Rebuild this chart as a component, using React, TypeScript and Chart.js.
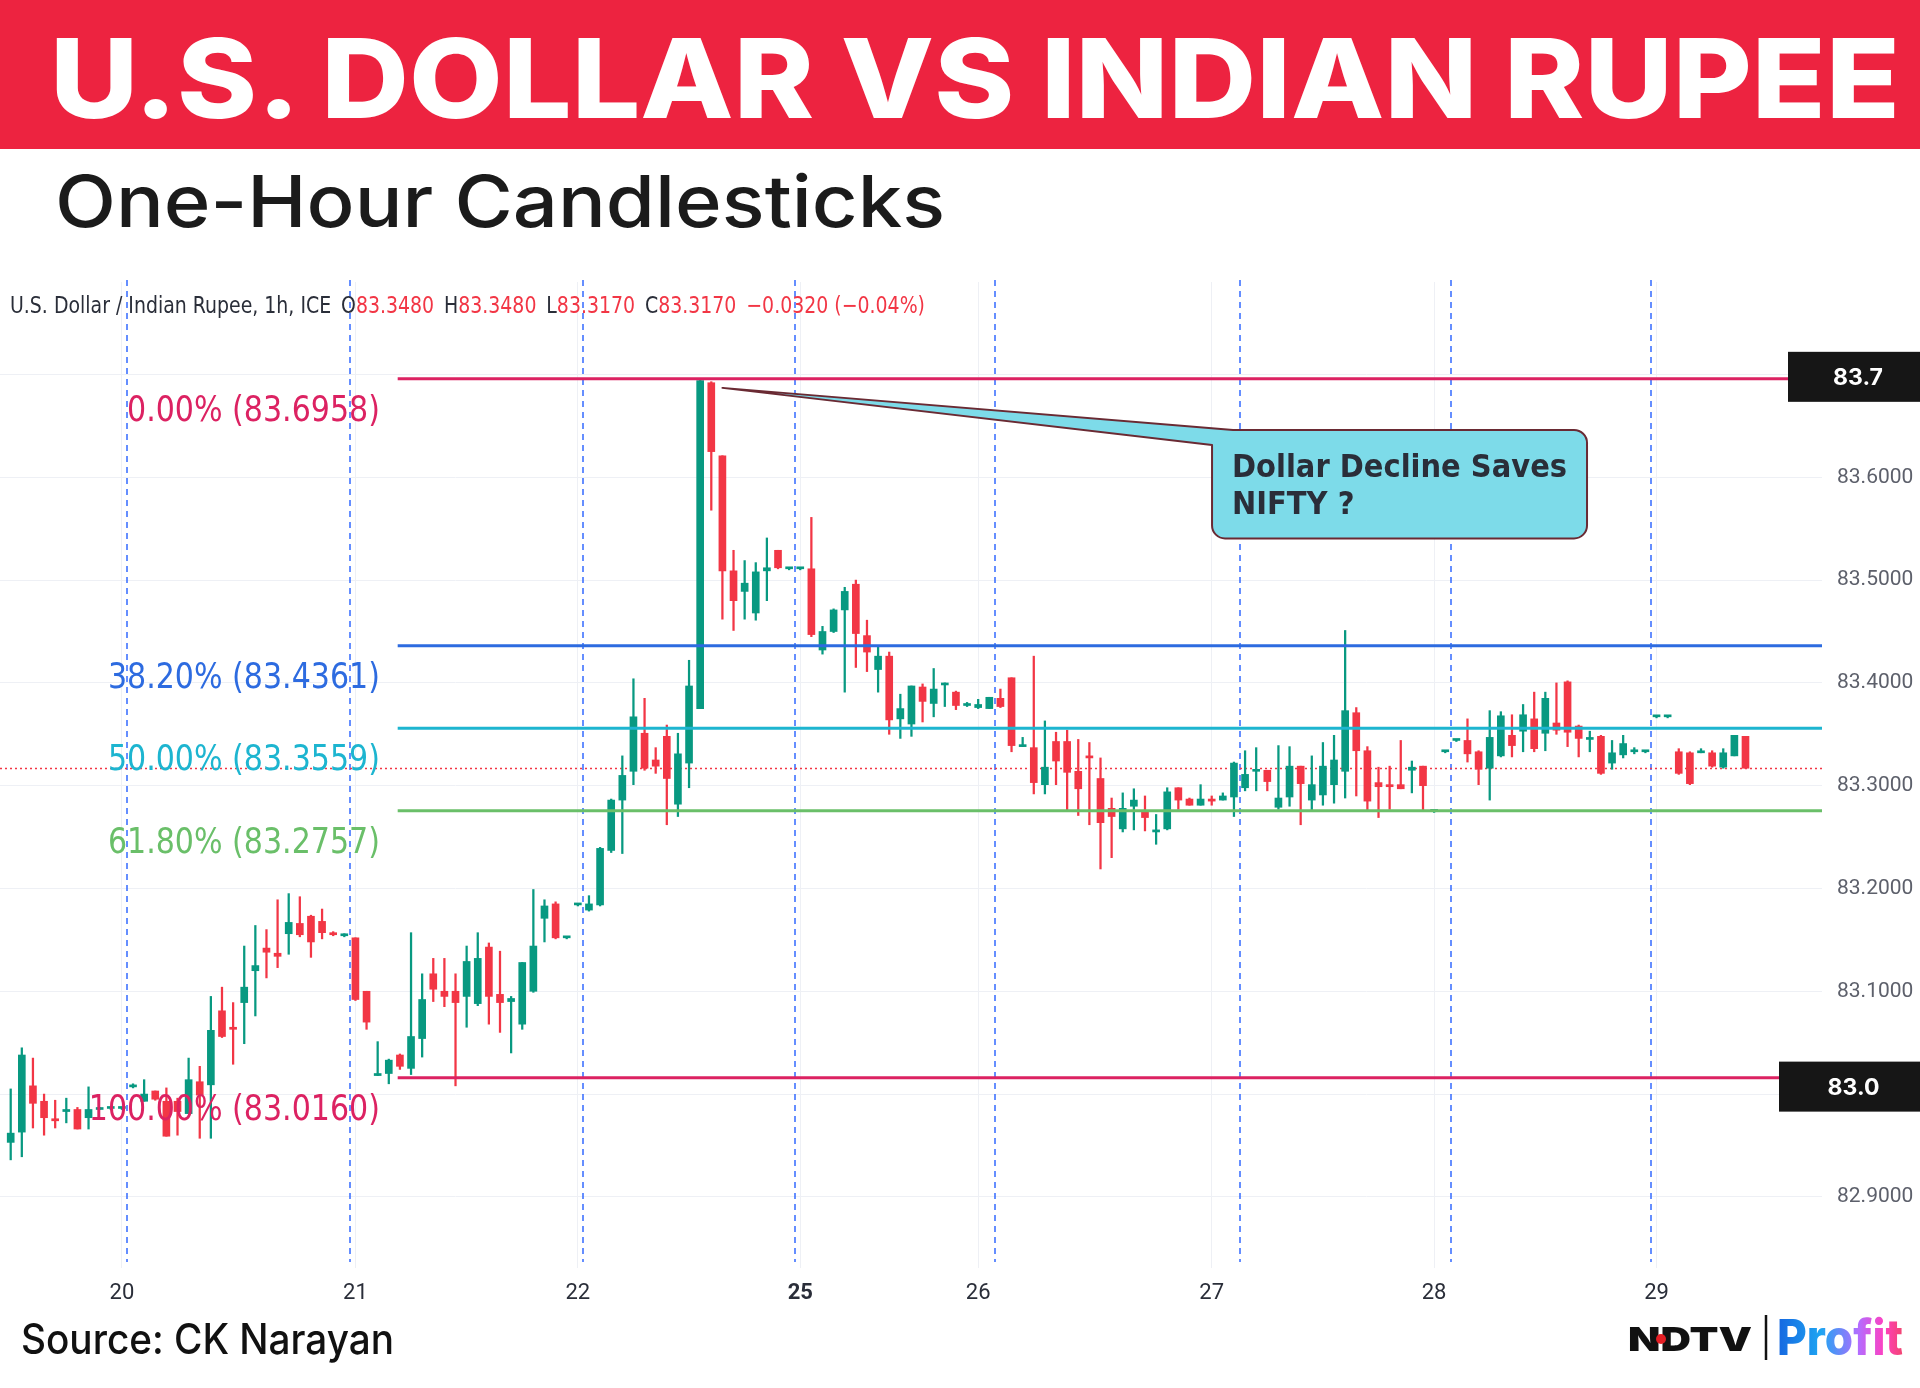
import { useEffect, useRef } from 'react';
import { Chart, registerables } from 'chart.js';

Chart.register(...registerables);

// ---------- DATA ----------
const opens = [
  82.953, 82.963, 83.008, 82.993, 82.976, 82.983, 82.985, 82.977, 82.985, 82.986,
  82.986, 83.007, 82.993, 83.003, 82.993, 82.993, 82.981, 83.012, 83.009, 83.081,
  83.065, 83.089, 83.120, 83.142, 83.137, 83.156, 83.166, 83.173, 83.168, 83.157,
  83.154, 83.152, 83.100, 83.018, 83.020, 83.038, 83.025, 83.054, 83.117, 83.100,
  83.100, 83.095, 83.088, 83.143, 83.097, 83.090, 83.068, 83.100, 83.171, 83.185,
  83.152, 83.184, 83.179, 83.184, 83.237, 83.286, 83.314, 83.351, 83.325, 83.348,
  83.282, 83.322, 83.375, 83.692, 83.621, 83.509, 83.489, 83.468, 83.509, 83.529,
  83.511, 83.511, 83.511, 83.432, 83.450, 83.471, 83.496, 83.446, 83.413, 83.426,
  83.365, 83.360, 83.396, 83.380, 83.398, 83.391, 83.378, 83.376, 83.375, 83.385,
  83.405, 83.338, 83.337, 83.301, 83.343, 83.343, 83.314, 83.329, 83.307, 83.278,
  83.258, 83.280, 83.276, 83.255, 83.258, 83.298, 83.287, 83.281, 83.287, 83.286,
  83.289, 83.298, 83.314, 83.315, 83.279, 83.289, 83.319, 83.286, 83.291, 83.301,
  83.314, 83.371, 83.334, 83.303, 83.301, 83.301, 83.315, 83.319, 83.275, 83.333,
  83.344, 83.344, 83.333, 83.317, 83.329, 83.349, 83.353, 83.365, 83.351, 83.361,
  83.401, 83.358, 83.345, 83.348, 83.322, 83.330, 83.333, 83.333, 83.367, 83.367,
  83.333, 83.332, 83.332, 83.332, 83.318, 83.329, 83.348,
];
const highs = [
  83.005, 83.045, 83.035, 83.000, 82.994, 82.996, 82.987, 83.007, 82.987, 82.987,
  82.987, 83.010, 83.014, 83.003, 83.006, 82.996, 83.035, 83.027, 83.095, 83.104,
  83.089, 83.144, 83.164, 83.160, 83.189, 83.195, 83.192, 83.174, 83.180, 83.158,
  83.156, 83.152, 83.100, 83.051, 83.034, 83.039, 83.157, 83.117, 83.132, 83.132,
  83.117, 83.144, 83.157, 83.147, 83.139, 83.095, 83.128, 83.199, 83.189, 83.187,
  83.153, 83.185, 83.193, 83.240, 83.287, 83.329, 83.404, 83.385, 83.337, 83.359,
  83.351, 83.422, 83.696, 83.693, 83.621, 83.529, 83.519, 83.517, 83.541, 83.529,
  83.512, 83.512, 83.561, 83.455, 83.472, 83.493, 83.500, 83.461, 83.435, 83.430,
  83.389, 83.397, 83.399, 83.414, 83.400, 83.392, 83.381, 83.384, 83.386, 83.394,
  83.405, 83.347, 83.426, 83.363, 83.352, 83.354, 83.345, 83.342, 83.327, 83.288,
  83.293, 83.297, 83.290, 83.272, 83.298, 83.298, 83.288, 83.301, 83.290, 83.293,
  83.323, 83.334, 83.337, 83.315, 83.339, 83.338, 83.319, 83.329, 83.342, 83.349,
  83.451, 83.376, 83.338, 83.318, 83.319, 83.344, 83.324, 83.319, 83.276, 83.334,
  83.345, 83.365, 83.334, 83.373, 83.372, 83.369, 83.379, 83.391, 83.391, 83.400,
  83.402, 83.359, 83.353, 83.349, 83.344, 83.349, 83.337, 83.334, 83.368, 83.368,
  83.336, 83.333, 83.336, 83.334, 83.336, 83.349, 83.348,
];
const lows = [
  82.936, 82.939, 82.967, 82.960, 82.967, 82.972, 82.966, 82.966, 82.985, 82.985,
  82.985, 83.006, 82.993, 82.994, 82.959, 82.960, 82.981, 82.957, 82.957, 83.055,
  83.029, 83.049, 83.076, 83.113, 83.123, 83.136, 83.153, 83.133, 83.151, 83.154,
  83.153, 83.091, 83.063, 83.018, 83.010, 83.024, 83.019, 83.036, 83.090, 83.085,
  83.008, 83.065, 83.086, 83.068, 83.060, 83.040, 83.063, 83.099, 83.148, 83.151,
  83.151, 83.183, 83.178, 83.183, 83.235, 83.234, 83.301, 83.315, 83.312, 83.262,
  83.270, 83.298, 83.375, 83.568, 83.462, 83.451, 83.462, 83.461, 83.480, 83.511,
  83.510, 83.510, 83.445, 83.428, 83.449, 83.391, 83.415, 83.411, 83.391, 83.350,
  83.346, 83.348, 83.362, 83.367, 83.377, 83.374, 83.377, 83.375, 83.375, 83.376,
  83.333, 83.338, 83.292, 83.292, 83.301, 83.276, 83.271, 83.262, 83.219, 83.230,
  83.255, 83.257, 83.256, 83.243, 83.257, 83.277, 83.281, 83.281, 83.281, 83.286,
  83.270, 83.295, 83.295, 83.295, 83.277, 83.280, 83.262, 83.275, 83.281, 83.283,
  83.288, 83.290, 83.275, 83.269, 83.277, 83.297, 83.293, 83.275, 83.274, 83.332,
  83.343, 83.323, 83.301, 83.286, 83.328, 83.328, 83.333, 83.333, 83.334, 83.350,
  83.338, 83.328, 83.333, 83.311, 83.316, 83.327, 83.331, 83.332, 83.366, 83.366,
  83.311, 83.301, 83.332, 83.318, 83.317, 83.329, 83.317,
];
const closes = [
  82.962, 83.038, 82.991, 82.977, 82.974, 82.985, 82.966, 82.985, 82.986, 82.986,
  82.986, 83.008, 83.000, 82.995, 82.959, 82.983, 83.014, 82.999, 83.062, 83.056,
  83.063, 83.104, 83.125, 83.138, 83.134, 83.167, 83.155, 83.148, 83.157, 83.155,
  83.155, 83.092, 83.070, 83.020, 83.033, 83.027, 83.056, 83.092, 83.102, 83.095,
  83.089, 83.129, 83.132, 83.095, 83.089, 83.093, 83.128, 83.144, 83.183, 83.152,
  83.152, 83.184, 83.185, 83.239, 83.286, 83.310, 83.367, 83.317, 83.319, 83.307,
  83.331, 83.397, 83.694, 83.625, 83.509, 83.480, 83.497, 83.508, 83.512, 83.512,
  83.511, 83.511, 83.447, 83.450, 83.471, 83.489, 83.448, 83.430, 83.426, 83.364,
  83.375, 83.397, 83.382, 83.394, 83.399, 83.378, 83.379, 83.379, 83.386, 83.377,
  83.339, 83.339, 83.303, 83.318, 83.324, 83.313, 83.297, 83.327, 83.264, 83.270,
  83.278, 83.286, 83.269, 83.257, 83.294, 83.286, 83.281, 83.287, 83.285, 83.290,
  83.322, 83.311, 83.315, 83.304, 83.288, 83.319, 83.302, 83.301, 83.319, 83.325,
  83.373, 83.334, 83.285, 83.299, 83.299, 83.297, 83.318, 83.300, 83.275, 83.333,
  83.344, 83.331, 83.316, 83.347, 83.368, 83.339, 83.369, 83.336, 83.385, 83.354,
  83.352, 83.346, 83.346, 83.312, 83.332, 83.341, 83.334, 83.334, 83.367, 83.367,
  83.312, 83.302, 83.333, 83.319, 83.332, 83.349, 83.317,
];

const dayBreaks = [10.5, 30.5, 51.5, 70.5, 88.5, 110.5, 129.5, 147.5];
const xTickValues = [10, 31, 51, 71, 87, 108, 128, 148];
const xTickLabels = ['20', '21', '22', '25', '26', '27', '28', '29'];
const boldXTicks = ['25'];
const yTickValues = [82.9, 83.0, 83.1, 83.2, 83.3, 83.4, 83.5, 83.6, 83.7];

const fibPercents = [0, 38.2, 50, 61.8, 100];
const fibPrices = [83.6958, 83.4361, 83.3559, 83.2757, 83.016];
const tagPrices = [83.6958, 83.016];

const symbolName = 'U.S. Dollar / Indian Rupee, 1h, ICE';
const calloutLines = ['Dollar Decline Saves', 'NIFTY ?'];

// ---------- LAYOUT / STYLE ----------
const GREEN = '#089981';
const RED = '#f23645';
const GRID = '#eef0f5';
const FIB_COLORS = ['#dc2262', '#2d6be0', '#1db5d0', '#6abf69', '#dc2262'];
const FIB_START_INDEX = 34.8;
const FIB_LABEL_RIGHT_INDEX = 33.2;
const X_MIN = -0.962;
const X_MAX = 162.88;
const Y_MIN = 82.8308;
const Y_MAX = 83.79;
const CALLOUT = {
  anchorIndex: 64, anchorValue: 83.687,
  left: 108.03, right: 141.75, top: 83.646, bottom: 83.5405,
};
const TAG_OFFSETS = [-2, 9];
const TAG_LEFT_FROM_RIGHT = [34, 43];

const fmtSigned = (v: number, d: number) => {
  const s = v.toFixed(d);
  return s.startsWith('-') ? '\u2212' + s.slice(1) : s;
};

function drawScaled(ctx: CanvasRenderingContext2D, text: string, x: number, y: number, sx: number, align: CanvasTextAlign) {
  ctx.save();
  ctx.translate(x, y);
  ctx.scale(sx, 1);
  ctx.textAlign = align;
  ctx.fillText(text, 0, 0);
  ctx.restore();
}

const overlayPlugin = {
  id: 'overlay',
  beforeDatasetsDraw(chart: any) {
    const { ctx, chartArea: a, scales } = chart;
    const x = scales.x, y = scales.y;
    ctx.save();
    // session breaks
    ctx.strokeStyle = 'rgba(41,98,255,0.72)';
    ctx.lineWidth = 2;
    ctx.setLineDash([6, 5]);
    for (const d of dayBreaks) {
      const px = Math.round(x.getPixelForValue(d));
      ctx.beginPath();
      ctx.moveTo(px, a.top - 2);
      ctx.lineTo(px, a.bottom - 6);
      ctx.stroke();
    }
    // last price line
    const n = closes.length;
    const py = Math.round(y.getPixelForValue(closes[n - 1])) + 0.5;
    ctx.strokeStyle = RED;
    ctx.lineWidth = 1.3;
    ctx.setLineDash([2, 3]);
    ctx.beginPath();
    ctx.moveTo(a.left, py);
    ctx.lineTo(a.right, py);
    ctx.stroke();
    ctx.restore();
  },
  afterDatasetsDraw(chart: any) {
    const { ctx, chartArea: a, scales } = chart;
    const x = scales.x, y = scales.y;
    ctx.save();
    // fib lines
    const fx = x.getPixelForValue(FIB_START_INDEX);
    ctx.lineWidth = 3;
    fibPrices.forEach((p, i) => {
      const py = y.getPixelForValue(p);
      ctx.strokeStyle = FIB_COLORS[i];
      ctx.beginPath();
      ctx.moveTo(fx, py);
      ctx.lineTo(a.right, py);
      ctx.stroke();
    });
    // fib labels
    ctx.font = "35px 'DejaVu Sans'";
    ctx.textBaseline = 'alphabetic';
    const sxFib = 272 / ctx.measureText('38.20% (83.4361)').width;
    const lx = x.getPixelForValue(FIB_LABEL_RIGHT_INDEX);
    fibPrices.forEach((p, i) => {
      ctx.fillStyle = FIB_COLORS[i];
      const label = `${fibPercents[i].toFixed(2)}% (${p.toFixed(4)})`;
      drawScaled(ctx, label, lx, y.getPixelForValue(p) + 42, sxFib, 'right');
    });

    // callout
    const ax = x.getPixelForValue(CALLOUT.anchorIndex);
    const ay = y.getPixelForValue(CALLOUT.anchorValue);
    const L = x.getPixelForValue(CALLOUT.left);
    const R = x.getPixelForValue(CALLOUT.right);
    const T = y.getPixelForValue(CALLOUT.top);
    const B = y.getPixelForValue(CALLOUT.bottom);
    const r = 13;
    ctx.beginPath();
    ctx.moveTo(ax, ay);
    ctx.lineTo(L + 21, T);
    ctx.lineTo(R - r, T);
    ctx.arcTo(R, T, R, T + r, r);
    ctx.lineTo(R, B - r);
    ctx.arcTo(R, B, R - r, B, r);
    ctx.lineTo(L + r, B);
    ctx.arcTo(L, B, L, B - r, r);
    ctx.lineTo(L, T + 15);
    ctx.closePath();
    ctx.fillStyle = '#7ddbe9';
    ctx.fill();
    ctx.strokeStyle = '#6a2a33';
    ctx.lineWidth = 2;
    ctx.lineJoin = 'round';
    ctx.stroke();
    ctx.fillStyle = '#2a2e39';
    ctx.font = "bold 32px 'DejaVu Sans'";
    const sxC = 335 / ctx.measureText(calloutLines[0]).width;
    calloutLines.forEach((line, i) => {
      drawScaled(ctx, line, L + 20, T + 47 + i * 36.5, sxC, 'left');
    });

    // legend
    const n = closes.length;
    const o = opens[n - 1], h = highs[n - 1], l = lows[n - 1], c = closes[n - 1];
    const prev = closes[n - 2];
    const chg = c - prev;
    const pct = (chg / prev) * 100;
    const pieces: [string, string, number][] = [
      [symbolName, '#2a2e39', 12],
      ['O', '#2a2e39', 0], [o.toFixed(4), RED, 12],
      ['H', '#2a2e39', 0], [h.toFixed(4), RED, 12],
      ['L', '#2a2e39', 0], [l.toFixed(4), RED, 12],
      ['C', '#2a2e39', 0], [c.toFixed(4), RED, 12],
      [`${fmtSigned(chg, 4)} (${fmtSigned(pct, 2)}%)`, RED, 0],
    ];
    ctx.font = "23px 'DejaVu Sans'";
    let total = 0;
    pieces.forEach(([t, , g]) => { total += ctx.measureText(t).width + g; });
    const sxL = 915 / total;
    let cx = 10;
    pieces.forEach(([t, col, g]) => {
      ctx.fillStyle = col;
      drawScaled(ctx, t, cx, a.top + 31, sxL, 'left');
      cx += (ctx.measureText(t).width + g) * sxL;
    });

    // price tags
    const W = chart.width;
    ctx.font = "bold 23px Inter, 'Open Sans', sans-serif";
    ctx.textBaseline = 'middle';
    tagPrices.forEach((p, i) => {
      const cy = y.getPixelForValue(p) + TAG_OFFSETS[i];
      const left = a.right - TAG_LEFT_FROM_RIGHT[i];
      ctx.fillStyle = '#161616';
      ctx.fillRect(left, cy - 25, W - left, 50);
      ctx.fillStyle = '#ffffff';
      ctx.textAlign = 'center';
      ctx.fillText(p.toFixed(1), (left + W) / 2 + 4, cy + 1);
    });
    ctx.restore();
  },
};

const isTagged = (v: number) => tagPrices.some((p) => Math.abs(Number(p.toFixed(1)) - v) < 1e-6);

export default function App() {
  const ref = useRef<HTMLCanvasElement>(null);

  useEffect(() => {
    const colorFor = (i: number) => (closes[i] >= opens[i] ? GREEN : RED);
    const bodyData = opens.map((o, i) => ({ x: i, y: [o, closes[i]] }));
    const wickData = highs.map((h, i) => ({ x: i, y: [lows[i], h] }));
    const chart = new Chart(ref.current as HTMLCanvasElement, {
      type: 'bar',
      data: {
        datasets: [
          {
            data: bodyData as any,
            backgroundColor: (c: any) => colorFor(c.dataIndex),
            barThickness: 7,
            minBarLength: 2,
            grouped: false,
            borderWidth: 0,
          } as any,
          {
            data: wickData as any,
            backgroundColor: (c: any) => colorFor(c.dataIndex),
            barThickness: 1.6,
            minBarLength: 1,
            grouped: false,
            borderWidth: 0,
          } as any,
        ],
      },
      options: {
        animation: false,
        responsive: false,
        devicePixelRatio: 1,
        events: [],
        layout: { padding: { top: 12, left: 0, right: 0, bottom: 0 } },
        plugins: { legend: { display: false }, tooltip: { enabled: false } },
        scales: {
          x: {
            type: 'linear',
            min: X_MIN,
            max: X_MAX,
            offset: false,
            grid: { color: GRID, drawTicks: false, offset: false },
            border: { display: false },
            afterBuildTicks: (s: any) => { s.ticks = xTickValues.map((v) => ({ value: v })); },
            afterFit: (s: any) => { s.height = 52; s.paddingLeft = 0; s.paddingRight = 0; },
            ticks: {
              padding: 12,
              color: '#2a2e39',
              autoSkip: false,
              maxRotation: 0,
              font: (c: any) => ({
                family: 'Roboto',
                size: 22,
                weight: boldXTicks.includes(xTickLabels[c.index]) ? 'bold' : 'normal',
              }),
              callback: (_v: any, i: number) => xTickLabels[i] ?? '',
            },
          } as any,
          y: {
            type: 'linear',
            position: 'right',
            min: Y_MIN,
            max: Y_MAX,
            beginAtZero: false,
            grid: { color: GRID, drawTicks: false },
            border: { display: false },
            afterBuildTicks: (s: any) => { s.ticks = yTickValues.map((v) => ({ value: v })); },
            afterFit: (s: any) => { s.width = 98; s.paddingTop = 0; s.paddingBottom = 0; },
            ticks: {
              padding: 15,
              color: '#5d606b',
              autoSkip: false,
              font: { family: 'Roboto', size: 21 },
              callback: (v: any) => (isTagged(Number(v)) ? '' : Number(v).toFixed(4)),
            },
          } as any,
        },
      },
      plugins: [overlayPlugin as any],
    });
    return () => chart.destroy();
  }, []);

  return (
    <div style={{ position: 'absolute', left: 0, top: 0, width: 1920, height: 1388, background: '#ffffff', overflow: 'hidden' }}>
      <canvas
        ref={ref}
        width={1920}
        height={1050}
        style={{ position: 'absolute', left: 0, top: 270, width: 1920, height: 1050 }}
      />
      <svg
        width={1920}
        height={1388}
        style={{ position: 'absolute', left: 0, top: 0, pointerEvents: 'none' }}
      >
        <defs>
          <linearGradient id="profitGrad" x1="0" y1="0" x2="1" y2="0">
            <stop offset="0%" stopColor="#1566e0" />
            <stop offset="35%" stopColor="#1ea5f2" />
            <stop offset="65%" stopColor="#b46cff" />
            <stop offset="85%" stopColor="#ff40c0" />
            <stop offset="100%" stopColor="#f2456e" />
          </linearGradient>
        </defs>
        <rect x={0} y={0} width={1920} height={149} fill="#ed2340" />
        <text
          x={50}
          y={118}
          fill="#ffffff"
          fontFamily="Inter, 'Open Sans', sans-serif"
          fontWeight={800}
          fontSize={110}
          textLength={1850}
          lengthAdjust="spacingAndGlyphs"
        >
          U.S. DOLLAR VS INDIAN RUPEE
        </text>
        <text
          x={55}
          y={227}
          fill="#1b1b1b"
          fontFamily="Inter, 'Open Sans', sans-serif"
          fontWeight={500}
          fontSize={72}
          textLength={890}
          lengthAdjust="spacingAndGlyphs"
        >
          One-Hour Candlesticks
        </text>
        <text
          x={21}
          y={1354}
          fill="#111111"
          fontFamily="Inter, 'Open Sans', sans-serif"
          fontWeight={500}
          fontSize={42}
          textLength={373}
          lengthAdjust="spacingAndGlyphs"
        >
          Source: CK Narayan
        </text>
        <text
          x={1628}
          y={1351}
          fill="#111111"
          fontFamily="Inter, 'Open Sans', sans-serif"
          fontWeight={900}
          fontSize={33}
          textLength={124}
          lengthAdjust="spacingAndGlyphs"
        >
          NDTV
        </text>
        <circle cx={1661} cy={1339} r={5} fill="#e31e24" />
        <line x1={1766} y1={1315} x2={1766} y2={1360} stroke="#111111" strokeWidth={2.5} />
        <text
          x={1777}
          y={1355}
          fill="url(#profitGrad)"
          fontFamily="Inter, 'Open Sans', sans-serif"
          fontWeight={800}
          fontSize={50}
          textLength={126}
          lengthAdjust="spacingAndGlyphs"
        >
          Profit
        </text>
      </svg>
    </div>
  );
}
